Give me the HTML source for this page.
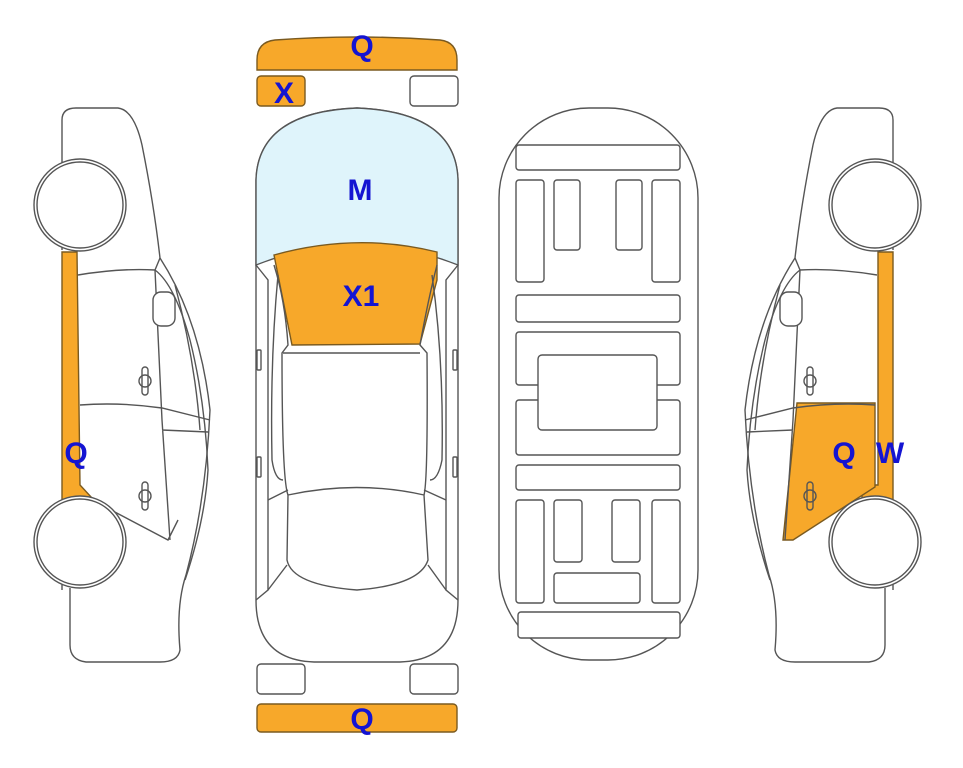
<!DOCTYPE html>
<html><head><style>body{margin:0;background:#fff}svg{display:block}text{font-family:"Liberation Sans",sans-serif;font-weight:bold;font-size:30px;fill:#1414d2;text-anchor:middle}</style></head>
<body>
<svg width="963" height="768" viewBox="0 0 963 768" xmlns="http://www.w3.org/2000/svg" fill="none" stroke="#555" stroke-width="1.4">
<!-- LEFT CAR -->
<g>
<path d="M62,160 L62,120 Q62,108 76,108 L118,108 Q134,110 142,145 Q154,205 160,258 Q200,320 210,410 Q206,500 186,575 Q176,605 180,650 Q178,662 160,662 L86,662 Q70,660 70,645 L70,588" fill="#fff"/>
<path d="M62,160 L62,250 M62,505 L62,590"/>
<polygon points="62,252 77,252 80,485 92,498 92,503 62,503" fill="#f7a82a" stroke="#7a5a20"/>
<path d="M78,275 Q120,268 155,270 L160,258 M155,270 Q175,285 190,340 Q205,400 208,470 Q205,520 185,580"/>
<path d="M155,270 L162,420 L170,540 M80,405 Q120,402 162,408 L210,420 M162,430 L208,432 M92,500 L168,540 L178,520"/>
<path d="M175,285 Q195,360 200,430"/>
<rect x="153" y="292" width="22" height="34" rx="8" fill="#fff"/>
<rect x="142" y="367" width="6" height="28" rx="3"/><circle cx="145" cy="381" r="6"/>
<rect x="142" y="482" width="6" height="28" rx="3"/><circle cx="145" cy="496" r="6"/>
<circle cx="80" cy="205" r="46" fill="#fff"/><circle cx="80" cy="205" r="43"/>
<circle cx="80" cy="542" r="46" fill="#fff"/><circle cx="80" cy="542" r="43"/>
<text x="76" y="463" stroke="none">Q</text>
</g>
<!-- RIGHT CAR (mirrored) -->
<g transform="translate(955,0) scale(-1,1)">
<path d="M62,160 L62,120 Q62,108 76,108 L118,108 Q134,110 142,145 Q154,205 160,258 Q200,320 210,410 Q206,500 186,575 Q176,605 180,650 Q178,662 160,662 L86,662 Q70,660 70,645 L70,588" fill="#fff"/>
<path d="M62,160 L62,250 M62,505 L62,590"/>
<polygon points="62,252 77,252 77,485 93,485 93,503 62,503" fill="#f7a82a" stroke="#7a5a20"/>
<polygon points="80,403 158,403 172,540 162,540 80,487" fill="#f7a82a" stroke="#7a5a20"/>
<path d="M78,275 Q120,268 155,270 L160,258 M155,270 Q175,285 190,340 Q205,400 208,470 Q205,520 185,580"/>
<path d="M155,270 L162,420 L170,540 M80,405 Q120,402 162,408 L210,420 M162,430 L208,432"/>
<path d="M175,285 Q195,360 200,430"/>
<rect x="153" y="292" width="22" height="34" rx="8" fill="#fff"/>
<rect x="142" y="367" width="6" height="28" rx="3"/><circle cx="145" cy="381" r="6"/>
<rect x="142" y="482" width="6" height="28" rx="3"/><circle cx="145" cy="496" r="6"/>
<circle cx="80" cy="205" r="46" fill="#fff"/><circle cx="80" cy="205" r="43"/>
<circle cx="80" cy="542" r="46" fill="#fff"/><circle cx="80" cy="542" r="43"/>
</g>
<text x="844" y="463" stroke="none">Q</text>
<text x="890" y="463" stroke="none">W</text>
<!-- TOP VIEW -->
<path d="M257,60 Q257,42 275,40 Q357,34 440,40 Q457,42 457,60 L457,70 L257,70 Z" fill="#f7a82a" stroke="#7a5a20"/>
<text x="362" y="56" stroke="none">Q</text>
<rect x="257" y="76" width="48" height="30" rx="4" fill="#f7a82a" stroke="#7a5a20"/>
<text x="284" y="103" stroke="none">X</text>
<rect x="410" y="76" width="48" height="30" rx="4" fill="#fff"/>
<path d="M256,265 L256,180 Q258,112 357,108 Q456,112 458,180 L458,600 Q458,660 400,662 L314,662 Q256,660 256,600 Z" fill="#fff"/>
<path d="M256,265 L256,180 Q258,112 357,108 Q456,112 458,180 L458,265 Q357,225 256,265 Z" fill="#dff4fb"/>
<path d="M274,255 Q357,232 437,252 L437,280 L420,344 L292,345 Z" fill="#f7a82a" stroke="#7a5a20"/>
<text x="360" y="200" stroke="none">M</text>
<text x="361" y="306" stroke="none">X1</text>
<path d="M256,265 L268,280 L268,590 L256,600 M458,265 L446,280 L446,590 L458,600"/>
<path d="M274,265 Q285,300 288,345 L282,353 Q282,480 288,495 M437,265 Q428,300 420,345 L427,353 Q428,480 424,495"/>
<path d="M283,353 L420,353"/>
<path d="M278,275 Q270,360 272,460 Q275,480 283,480 M432,275 Q444,360 442,460 Q438,480 430,480"/>
<path d="M288,495 Q357,480 424,495 L428,560 Q420,585 357,590 Q292,585 287,560 Z"/>
<path d="M268,500 L288,490 M446,500 L424,490 M268,590 L287,565 M446,590 L428,565"/>
<rect x="257" y="350" width="4" height="20" rx="1"/><rect x="453" y="350" width="4" height="20" rx="1"/>
<rect x="257" y="457" width="4" height="20" rx="1"/><rect x="453" y="457" width="4" height="20" rx="1"/>
<rect x="257" y="664" width="48" height="30" rx="4" fill="#fff"/>
<rect x="410" y="664" width="48" height="30" rx="4" fill="#fff"/>
<rect x="257" y="704" width="200" height="28" rx="4" fill="#f7a82a" stroke="#7a5a20"/>
<text x="362" y="729" stroke="none">Q</text>
<!-- UNDERBODY -->
<rect x="499" y="108" width="199" height="552" rx="90" fill="#fff"/>
<g fill="#fff">
<rect x="516" y="145" width="164" height="25" rx="3"/>
<rect x="516" y="180" width="28" height="102" rx="3"/>
<rect x="554" y="180" width="26" height="70" rx="3"/>
<rect x="616" y="180" width="26" height="70" rx="3"/>
<rect x="652" y="180" width="28" height="102" rx="3"/>
<rect x="516" y="295" width="164" height="27" rx="3"/>
<rect x="516" y="332" width="164" height="53" rx="3"/>
<rect x="516" y="400" width="164" height="55" rx="3"/>
<rect x="538" y="355" width="119" height="75" rx="4"/>
<rect x="516" y="465" width="164" height="25" rx="3"/>
<rect x="516" y="500" width="28" height="103" rx="3"/>
<rect x="554" y="500" width="28" height="62" rx="3"/>
<rect x="612" y="500" width="28" height="62" rx="3"/>
<rect x="652" y="500" width="28" height="103" rx="3"/>
<rect x="554" y="573" width="86" height="30" rx="3"/>
<rect x="518" y="612" width="162" height="26" rx="3"/>
</g>
</svg>
</body></html>
